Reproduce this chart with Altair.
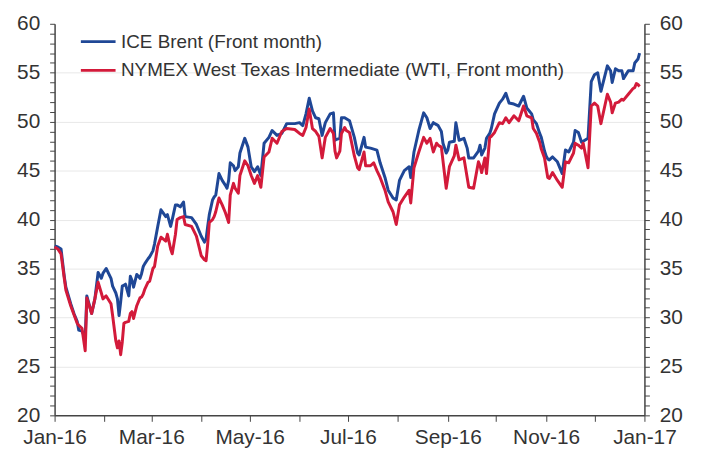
import altair as alt
import pandas as pd

# day offsets from 2016-01-01
days = [0, 2, 4, 6, 7, 10, 12, 14, 15, 17, 19, 20, 23, 25, 27, 29, 30, 32, 35, 36,
        38, 39, 40, 41, 42, 43, 44, 46, 47, 48, 49, 51, 53, 54, 55, 56, 58, 59, 61, 62,
        64, 66, 69, 70, 72, 73, 75, 76, 78, 80, 81, 85, 88, 91, 93, 94, 95, 96, 98, 99,
        100, 102, 104, 106, 107, 108, 109, 111, 112, 114, 115, 118, 120, 122, 124, 126, 128, 130, 133, 135,
        138, 141, 144, 149, 152, 154, 156, 158, 160, 162, 164, 166, 168, 171, 173, 174, 175, 177, 178, 180,
        181, 183, 186, 188, 189, 192, 193, 196, 198, 200, 202, 205, 207, 210, 212, 214, 217, 220, 221, 223,
        226, 229, 231, 233, 235, 237, 238, 240, 241, 243, 244, 245, 248, 249, 251, 254, 256, 257, 260, 263,
        264, 265, 267, 268, 270, 271, 273, 276, 278, 280, 282, 285, 288, 291, 293, 296, 297, 299, 301, 302,
        304, 305, 306, 307, 309, 312, 315, 317, 319, 322, 323, 325, 327, 328, 331, 333, 335, 337, 339, 341,
        343, 345, 346, 348, 350, 352, 353, 356, 359, 360, 361, 362, 363]

brent = [37.3, 37.2, 37.0, 34.2, 33.1, 31.4, 30.4, 29.6, 28.7, 28.6, 27.9, 32.2, 30.4, 31.9, 34.6, 34.0, 34.5, 35.0, 34.0, 33.2,
         32.5, 31.9, 30.2, 31.6, 33.2, 33.3, 33.4, 32.2, 34.2, 33.8, 33.1, 34.4, 34.0, 34.5, 35.2, 35.5, 36.0, 36.2, 36.8, 37.5,
         39.3, 41.0, 40.3, 40.5, 39.3, 40.0, 41.5, 41.5, 41.3, 41.8, 40.3, 40.2, 39.5, 38.3, 37.7, 38.0, 39.3, 40.5, 42.0, 42.3,
         42.5, 44.7, 44.0, 43.5, 43.2, 44.0, 45.8, 45.5, 45.0, 45.4, 46.8, 48.3, 47.4, 45.4, 44.9, 45.4, 44.5, 47.8, 48.4, 49.1,
         48.6, 48.8, 49.8, 49.8, 49.9, 49.6, 50.8, 52.4, 51.1, 50.4, 50.3, 48.6, 49.9, 50.8, 50.9, 48.1, 48.2, 48.3, 50.4, 50.4,
         50.3, 50.1, 48.4, 46.8, 46.6, 48.4, 47.4, 47.3, 47.2, 47.1, 45.8, 44.3, 43.0, 42.2, 42.0, 44.0, 45.0, 45.4, 44.3, 46.9,
         49.1, 50.9, 50.4, 49.3, 49.9, 49.7, 49.6, 49.0, 47.8, 46.8, 47.1, 47.9, 48.0, 49.9, 48.1, 48.3, 47.3, 46.3, 46.3, 47.0,
         47.6, 46.6, 47.3, 48.3, 48.8, 49.3, 50.8, 51.9, 52.3, 52.9, 51.9, 51.8, 51.6, 52.6, 51.4, 50.8, 50.2, 49.8, 48.8, 48.4,
         47.0, 46.5, 46.2, 46.1, 46.4, 45.9, 44.7, 47.1, 46.9, 47.9, 49.1, 48.9, 47.9, 48.0, 48.3, 54.1, 54.8, 55.0, 53.1, 54.4,
         55.7, 55.2, 54.0, 55.4, 55.2, 55.2, 54.4, 55.2, 55.2, 56.0, 56.2, 56.4, 57.0]

wti = [37.2, 37.0, 36.5, 34.0, 32.8, 31.2, 30.3, 29.4, 29.2, 28.9, 26.6, 32.0, 30.4, 31.9, 33.6, 32.5, 31.9, 32.2, 31.4, 30.2,
       27.6, 26.9, 27.6, 26.2, 27.5, 29.4, 29.5, 29.6, 30.4, 30.6, 29.9, 31.2, 32.0, 32.1, 32.4, 32.9, 33.6, 33.7, 35.0, 35.2,
       37.3, 38.2, 37.8, 38.5, 37.0, 36.5, 38.5, 40.0, 40.2, 40.3, 39.5, 39.3, 38.3, 36.3, 35.9, 35.8, 37.5, 39.7, 40.0, 40.3,
       40.8, 42.2, 41.5, 40.7, 40.2, 39.7, 42.5, 43.7, 43.2, 42.7, 44.5, 46.0, 45.5, 44.5, 43.7, 44.5, 43.3, 46.4, 46.9, 48.3,
       47.8, 49.0, 49.3, 49.2, 48.8, 48.6, 49.4, 51.3, 49.3, 49.0, 48.5, 46.3, 48.4, 49.3, 48.8, 47.0, 46.3, 47.0, 48.8, 49.4,
       49.1, 48.9, 46.5, 45.3, 45.1, 46.9, 45.5, 45.5, 45.8, 45.0, 44.3, 43.0, 41.8, 40.8, 39.5, 41.5, 42.3, 43.0, 41.7, 45.3,
       46.9, 48.4, 47.8, 48.3, 46.9, 47.8, 47.6, 47.4, 46.0, 43.2, 44.3, 45.4, 46.5, 47.6, 46.1, 46.3, 44.3, 43.3, 43.2, 45.9,
       45.5, 44.8, 46.3, 44.7, 48.4, 48.5, 48.9, 49.9, 49.8, 50.4, 49.9, 50.6, 50.1, 51.6, 50.6, 50.4, 49.3, 48.8, 47.9, 47.2,
       46.3, 45.3, 44.3, 44.2, 44.8, 44.0, 43.3, 45.9, 45.8, 46.8, 47.8, 47.6, 47.3, 47.8, 45.3, 51.6, 51.9, 51.6, 49.8, 51.3,
       52.8, 52.0, 50.9, 51.9, 52.0, 52.3, 52.2, 52.8, 53.4, 53.5, 53.9, 53.8, 53.6]

series_names = ["ICE Brent (Front month)", "NYMEX West Texas Intermediate (WTI, Front month)"]
series_colors = ["#1f4796", "#d31a3a"]
month_ticks = [f"2016-{m:02d}-01" for m in range(1, 13)] + ["2017-01-01"]
y_ticks = list(range(20, 61))

start = pd.Timestamp("2016-01-01")
dates = [(start + pd.Timedelta(days=d)).strftime("%Y-%m-%d") for d in days]
df_brent = pd.DataFrame({"date": dates, "value": brent, "series": series_names[0]})
df_wti = pd.DataFrame({"date": dates, "value": wti, "series": series_names[1]})

FONT = "Liberation Sans"

x_enc = alt.X(
    "date:T",
    scale=alt.Scale(type="utc", domain=["2016-01-01", "2017-01-01"]),
    axis=alt.Axis(
        title=None,
        values=month_ticks,
        labelExpr="utcmonth(datum.value) % 2 === 0 ? utcFormat(datum.value, '%b-%y') : ''",
        grid=False,
        tickSize=6,
        labelPadding=5,
        labelFlush=False,
        labelOverlap=False,
    ),
)

ycommon = dict(
    title=None,
    values=y_ticks,
    labelExpr="datum.value % 5 === 0 ? datum.label : ''",
    labelOverlap=False,
    tickSize=5,
    labelPadding=10,
)

y_scale = alt.Scale(domain=[20, 60], nice=False, zero=False)

color_enc = alt.Color(
    "series:N",
    scale=alt.Scale(domain=series_names, range=series_colors),
    legend=alt.Legend(
        orient="none",
        legendX=25,
        legendY=-1,
        title=None,
        symbolType="stroke",
        symbolSize=1225,
        symbolStrokeWidth=3,
        labelFontSize=19,
        labelFont=FONT,
        labelColor="#333",
        labelOffset=4,
        labelLimit=0,
        rowPadding=-16,
        padding=0,
    ),
)

left_y = alt.Y(
    "value:Q",
    scale=y_scale,
    axis=alt.Axis(
        orient="left",
        grid=True,
        gridColor="#e8e8e8",
        gridOpacity={"condition": {"test": "datum.value % 5 === 0 && datum.value > 20 && datum.value < 60", "value": 1}, "value": 0},
        **ycommon,
    ),
)

line_brent = alt.Chart(df_brent).mark_line(strokeWidth=3, strokeJoin="round").encode(
    x=x_enc, y=left_y, color=color_enc
)
line_wti = alt.Chart(df_wti).mark_line(strokeWidth=3, strokeJoin="round").encode(
    x=x_enc, y=left_y, color=color_enc
)
left_layer = alt.layer(line_brent, line_wti)

right = alt.Chart(df_wti).mark_line(opacity=0).encode(
    x=x_enc,
    y=alt.Y("value:Q", scale=y_scale, axis=alt.Axis(orient="right", grid=False, **ycommon)),
)

chart = alt.layer(left_layer, right).resolve_scale(y="independent").properties(
    width=595,
    height=395,
    autosize=alt.AutoSizeParams(type="none"),
    padding={"left": 47, "top": 14, "right": 50, "bottom": 31},
).configure_view(stroke=None).configure_axis(
    labelFont=FONT,
    labelFontSize=21,
    labelColor="#333",
    domainColor="#444",
    tickColor="#444",
    domainWidth=1.5,
)

chart.save("out.html", embed_options={"renderer": "svg", "actions": False})
